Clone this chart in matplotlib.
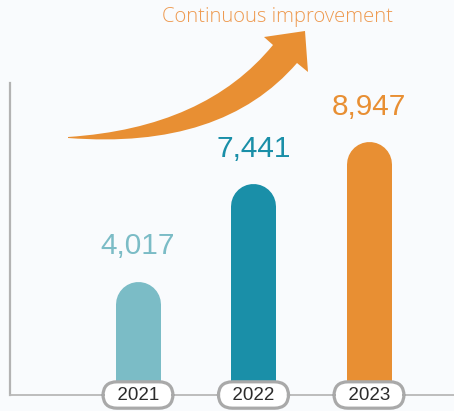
import matplotlib
matplotlib.use("Agg")
import matplotlib.pyplot as plt
from matplotlib.path import Path
from matplotlib.patches import PathPatch
from matplotlib import transforms

years = ["2021", "2022", "2023"]
values = [4017, 7441, 8947]
value_labels = ["4,017", "7,441", "8,947"]
bar_colors = ["#7bbcc6", "#1a8fa8", "#e88f33"]
title_text = "Continuous improvement"

W, H = 454, 411
DPI = 100
fig = plt.figure(figsize=(W / DPI, H / DPI), dpi=DPI)
fig.patch.set_facecolor("#f9fbfd")

# axes: left at x=10px, bottom at y=395px (from top), top at 83px
ax_left = 10 / W
ax_bottom = (H - 395) / H
ax_height = (395 - 83) / H
ax = fig.add_axes([ax_left, ax_bottom, 1 - ax_left, ax_height])
ax.set_facecolor("none")

x = list(range(len(years)))
ax.set_xlim(-1.108, 2.736)
ax.set_ylim(0, 11000)

for s in ["top", "right"]:
    ax.spines[s].set_visible(False)
ax.spines["left"].set_color("#b3b3b3")
ax.spines["left"].set_linewidth(1.6)
ax.spines["bottom"].set_color("#b8b8b8")
ax.spines["bottom"].set_linewidth(1.3)
ax.set_xticks([])
ax.set_yticks([])

# rounded-top bars: thick lines with round caps, shifted down by the cap radius
bar_px = 45
lw_pt = bar_px * 72 / DPI
off = transforms.offset_copy(ax.transData, fig=fig, y=-lw_pt / 2, units="points")
for xi, v, c in zip(x, values, bar_colors):
    ax.plot([xi, xi], [-2000, v], color=c, linewidth=lw_pt,
            solid_capstyle="round", transform=off, zorder=2)

# value labels
for xi, v, lab, c in zip(x, values, value_labels, bar_colors):
    ax.annotate(lab, xy=(xi, v), xytext=(0, 25), textcoords="offset points",
                ha="center", va="center", fontsize=21.5, color=c,
                family="Liberation Sans", zorder=4)

# year pills
for xi, yr in zip(x, years):
    ax.text(xi, 0, "\u2002" + yr + "\u2002", ha="center", va="center", fontsize=13.5,
            family="Liberation Sans", color="#2b2b2b", zorder=5,
            bbox=dict(boxstyle="round,pad=0.25,rounding_size=0.75",
                      fc="white", ec="#a9a9a9", lw=2.3),
            clip_on=False)

# decorative curved arrow (in figure pixel coords, y from top)
def P(px, py):
    return (px / W, 1 - py / H)

verts = [
    P(68, 137),            # tail
    P(205, 128), P(273, 45),  # upper edge (quadratic)
    P(264, 37),            # head left corner
    P(305, 31),            # tip
    P(308, 72),            # head bottom corner
    P(297, 63),            # inner join
    P(222, 150), P(68, 138),  # lower edge (quadratic)
    P(68, 137),
]
codes = [Path.MOVETO, Path.CURVE3, Path.CURVE3, Path.LINETO, Path.LINETO,
         Path.LINETO, Path.LINETO, Path.CURVE3, Path.CURVE3, Path.CLOSEPOLY]
arrow = PathPatch(Path(verts, codes), transform=fig.transFigure,
                  fc="#e88f33", ec="none", zorder=3)
fig.patches.append(arrow)

fig.text(277 / W, 1 - 17 / H, title_text, ha="center", va="center",
         fontsize=14.6, color="#ee9a50", family="Open Sans", fontweight="light")

fig.savefig("out.png", dpi=DPI, facecolor=fig.get_facecolor())
